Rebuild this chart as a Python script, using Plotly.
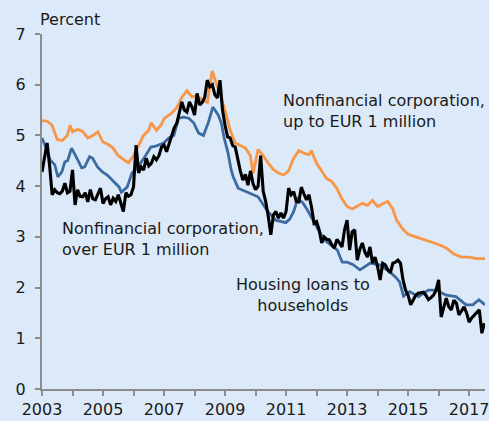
import plotly.graph_objects as go

# Nonfinancial corporation, up to EUR 1 million (orange)
small_years = [2003.0, 2003.17, 2003.33, 2003.5, 2003.67, 2003.83, 2003.92, 2004.0, 2004.17, 2004.33,
               2004.5, 2004.67, 2004.83, 2005.0, 2005.17, 2005.33, 2005.5, 2005.67, 2005.83, 2006.0,
               2006.17, 2006.33, 2006.5, 2006.58, 2006.75, 2006.92, 2007.0, 2007.25, 2007.42, 2007.58,
               2007.75, 2007.92, 2008.08, 2008.25, 2008.42, 2008.58, 2008.75, 2008.92, 2009.0, 2009.17,
               2009.33, 2009.5, 2009.67, 2009.83, 2009.92, 2010.08, 2010.25, 2010.42, 2010.58, 2010.75,
               2010.92, 2011.08, 2011.25, 2011.42, 2011.58, 2011.75, 2011.83, 2012.0, 2012.17, 2012.33,
               2012.5, 2012.67, 2012.83, 2013.0, 2013.17, 2013.33, 2013.5, 2013.67, 2013.83, 2014.0,
               2014.17, 2014.33, 2014.5, 2014.62, 2014.83, 2015.0, 2015.25, 2015.5, 2015.75, 2016.0,
               2016.25, 2016.5, 2016.75, 2017.0, 2017.25, 2017.52]
small_rate = [5.29, 5.28, 5.2, 4.92, 4.9, 5.0, 5.2, 5.07, 5.12, 5.08,
              4.95, 5.0, 5.07, 4.87, 4.82, 4.75, 4.6, 4.52, 4.46, 4.6,
              4.8, 5.0, 5.1, 5.25, 5.1, 5.22, 5.33, 5.44, 5.55, 5.75,
              5.88, 5.76, 5.78, 5.7, 5.65, 6.27, 5.96, 5.65, 5.5, 5.1,
              4.85, 4.8, 4.75, 4.6, 4.25, 4.72, 4.6, 4.45, 4.33, 4.26,
              4.22, 4.3, 4.55, 4.7, 4.65, 4.62, 4.7, 4.45, 4.3, 4.15,
              4.09, 3.95, 3.75, 3.6, 3.55, 3.6, 3.66, 3.62, 3.72, 3.6,
              3.66, 3.7, 3.55, 3.33, 3.15, 3.05, 3.0, 2.95, 2.9, 2.85,
              2.78, 2.66, 2.6, 2.6, 2.57, 2.57]

# Nonfinancial corporation, over EUR 1 million (blue)
large_years = [2003.0, 2003.16, 2003.26, 2003.42, 2003.52, 2003.65, 2003.75, 2003.84, 2003.97, 2004.07,
               2004.17, 2004.3, 2004.4, 2004.56, 2004.66, 2004.82, 2004.98, 2005.14, 2005.31, 2005.53,
               2005.6, 2005.79, 2005.95, 2006.12, 2006.34, 2006.57, 2006.73, 2006.99, 2007.16, 2007.32,
               2007.48, 2007.64, 2007.81, 2007.97, 2008.13, 2008.29, 2008.45, 2008.6, 2008.78, 2008.88,
               2008.97, 2009.1, 2009.2, 2009.27, 2009.43, 2009.75, 2010.08, 2010.4, 2010.66, 2010.99,
               2011.12, 2011.25, 2011.38, 2011.54, 2011.7, 2012.03, 2012.25, 2012.68, 2012.84, 2013.0,
               2013.2, 2013.42, 2013.6, 2013.75, 2014.07, 2014.4, 2014.6, 2014.72, 2014.85, 2015.05,
               2015.34, 2015.66, 2015.92, 2016.25, 2016.57, 2016.9, 2017.12, 2017.32, 2017.52]
large_rate = [4.95, 4.71, 4.52, 4.42, 4.18, 4.28, 4.48, 4.5, 4.75, 4.62,
              4.52, 4.36, 4.38, 4.58, 4.55, 4.38, 4.28, 4.22, 4.12, 3.98,
              3.88, 3.98, 4.26, 4.36, 4.55, 4.77, 4.79, 4.85, 4.95, 5.0,
              5.34, 5.36, 5.34, 5.25, 5.05, 5.0, 5.25, 5.56, 5.4, 5.24,
              4.95, 4.65, 4.32, 4.18, 3.96, 3.87, 3.79, 3.5, 3.33, 3.28,
              3.35, 3.5, 3.75, 3.68, 3.53, 3.17, 2.94, 2.74, 2.5, 2.5,
              2.45, 2.35, 2.42, 2.48, 2.45, 2.31, 2.2, 2.11, 1.83, 1.92,
              1.82, 1.95, 1.95, 1.85, 1.82, 1.66, 1.66, 1.76, 1.66]

# Housing loans to households (black), monthly from Jan 2003
housing_start = 2003.0
housing_rate = [4.28, 4.6, 4.85, 4.4, 3.83, 3.93, 3.87, 3.85, 3.9, 4.06,
                3.87, 3.9, 4.32, 3.63, 3.93, 3.8, 3.79, 3.87, 3.69, 3.93,
                3.75, 3.73, 3.83, 3.96, 3.66, 3.75, 3.79, 3.63, 3.76, 3.7,
                3.83, 3.66, 3.5, 3.87, 3.8, 3.83, 3.99, 4.81, 4.26, 4.38,
                4.32, 4.55, 4.4, 4.45, 4.58, 4.52, 4.6, 4.77, 4.81, 4.68,
                4.85, 4.97, 5.15, 5.24, 5.44, 5.66, 5.5, 5.46, 5.66, 5.56,
                5.4, 5.83, 5.6, 5.65, 5.75, 6.09, 5.96, 6.0, 5.8, 5.74,
                6.09, 5.5, 5.2, 4.97, 4.95, 4.8, 4.77, 4.5, 4.3, 4.12,
                4.23, 4.02, 4.3, 4.05, 3.93, 4.0, 4.6, 3.9, 3.69, 3.4,
                3.04, 3.43, 3.5, 3.37, 3.47, 3.37, 3.5, 3.96, 3.83, 3.89,
                3.7, 3.69, 3.98, 3.85, 3.73, 3.83, 3.59, 3.27, 3.3, 3.14,
                2.88, 3.0, 2.95, 2.94, 2.84, 2.78, 2.95, 2.88, 2.8, 3.14,
                3.33, 2.74, 3.1, 3.14, 2.54, 2.75, 2.88, 2.7, 2.6, 2.8,
                2.48, 2.6, 2.41, 2.15, 2.48, 2.45, 2.35, 2.29, 2.48, 2.5,
                2.54, 2.48, 2.15, 1.95, 1.85, 1.66, 1.76, 1.85, 1.89, 1.9,
                1.91, 1.85, 1.76, 1.8, 1.85, 1.95, 2.15, 1.42, 1.6, 1.79,
                1.62, 1.56, 1.75, 1.69, 1.46, 1.55, 1.62, 1.5, 1.32, 1.4,
                1.46, 1.5, 1.56, 1.1, 1.3]
housing_years = [housing_start + i / 12 for i in range(len(housing_rate))]

years = list(range(2003, 2018))
year_labels = [str(y) if (y - 2003) % 2 == 0 else "" for y in years]

FONT = "DejaVu Sans, Arial, sans-serif"
BG = "#dce9f8"
AXIS = "#8c8c8c"

fig = go.Figure()
fig.add_trace(go.Scatter(x=small_years, y=small_rate, mode="lines",
                         line=dict(color="#f79646", width=2.8)))
fig.add_trace(go.Scatter(x=large_years, y=large_rate, mode="lines",
                         line=dict(color="#3c6ba2", width=2.8)))
fig.add_trace(go.Scatter(x=housing_years, y=housing_rate, mode="lines",
                         line=dict(color="#000000", width=3.1)))

ann_font = dict(family=FONT, size=16, color="#1a1a1a")
fig.add_annotation(x=2010.82, y=5.49, xref="x", yref="y", xanchor="left", yanchor="middle",
                   align="left", showarrow=False, font=ann_font,
                   text="Nonfinancial corporation,<br>up to EUR 1 million")
fig.add_annotation(x=2003.58, y=2.96, xref="x", yref="y", xanchor="left", yanchor="middle",
                   align="left", showarrow=False, font=ann_font,
                   text="Nonfinancial corporation,<br>over EUR 1 million")
fig.add_annotation(x=2011.54, y=1.86, xref="x", yref="y", xanchor="center", yanchor="middle",
                   align="center", showarrow=False, font=ann_font,
                   text="Housing loans to<br>households")
fig.add_annotation(x=0, y=1, xref="paper", yref="paper", xanchor="left", yanchor="bottom",
                   xshift=-4, yshift=3, showarrow=False, font=ann_font, text="Percent")

fig.update_layout(
    width=489, height=421,
    margin=dict(l=42, r=0, t=34, b=32),
    paper_bgcolor=BG, plot_bgcolor=BG,
    showlegend=False,
    font=dict(family=FONT, size=16, color="#1a1a1a"),
)
fig.update_xaxes(range=[2003, 2017.52], tickvals=years, ticktext=year_labels,
                 showgrid=False, zeroline=False, showline=True, linecolor=AXIS, linewidth=2,
                 ticks="outside", ticklen=5, tickcolor=AXIS, tickwidth=1.5,
                 ticklabeloverflow="allow", tickfont=dict(size=16))
fig.update_yaxes(range=[0, 7], tickvals=list(range(8)),
                 showgrid=False, zeroline=False, showline=True, linecolor=AXIS, linewidth=2,
                 ticks="outside", ticklen=5, tickcolor=AXIS, tickwidth=1.5,
                 ticklabelstandoff=6, tickfont=dict(size=16))

# the page adds a default body margin; drop it so the figure fills the window
fig.write_html("out.html", config={"displayModeBar": False},
               post_script="document.body.style.margin='0';")
